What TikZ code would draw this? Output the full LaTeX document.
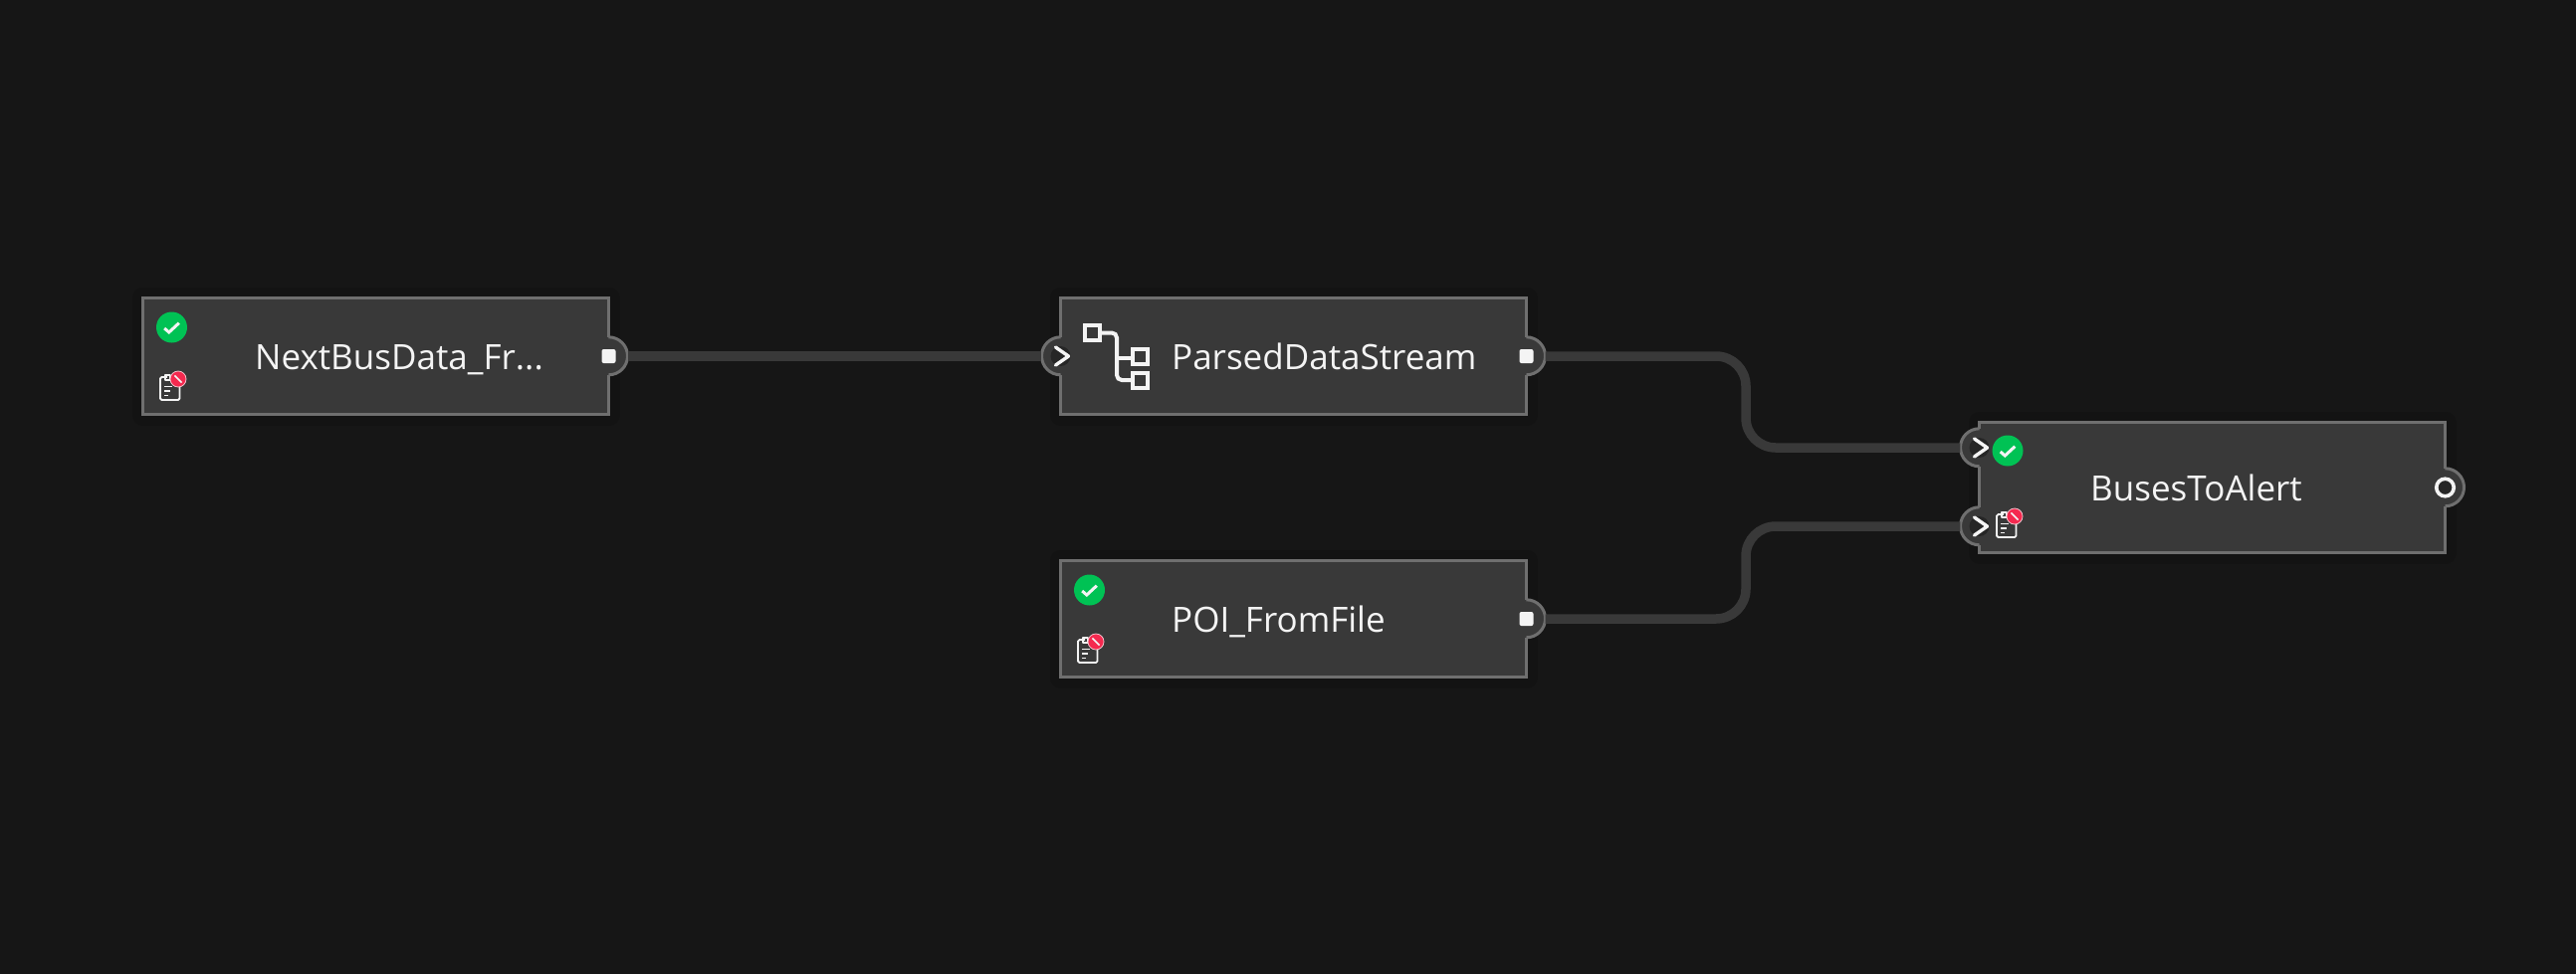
\documentclass[tikz,border=0pt]{standalone}
\usepackage{fontspec}
\setmainfont{Open Sans}
\definecolor{canvas}{HTML}{161616}
\definecolor{halo}{HTML}{131313}
\definecolor{bodyfill}{HTML}{393939}
\definecolor{bodyline}{HTML}{6F6F6F}
\definecolor{holefill}{HTML}{262626}
\definecolor{ink}{HTML}{F4F4F4}
\definecolor{okgreen}{HTML}{00C254}
\definecolor{badred}{HTML}{F5294F}
\tikzset{
  opbox/.style={rectangle,draw=bodyline,fill=bodyfill,line width=3pt,inner sep=0pt,minimum width=468pt,minimum height=117pt,
    preaction={draw=halo,line width=22pt,line join=round}},
  portbase/.style={circle,fill=bodyfill,inner sep=0pt,minimum size=38pt},
  portarc/.style={draw=bodyline,line width=3pt},
  wire/.style={draw=bodyfill,line width=9.5pt,rounded corners=30pt},
  label/.style={anchor=base west,inner sep=0pt,text=ink,font=\fontsize{35}{40}\selectfont},
  glyph/.style={draw=ink,line width=3.4pt,line cap=round,line join=round},
  tree/.style={draw=ink,line width=4pt,line cap=butt,line join=miter},
  thin glyph/.style={draw=ink,line width=1.8pt,line join=round},
}
% out port: name, x, y
\newcommand{\outport}[3]{%
  \node[portbase] (#1) at (#2,#3) {};
  \draw[portarc] (#1.north) arc[start angle=90,end angle=-90,radius=19pt];
  \node[rectangle,fill=ink,rounded corners=2pt,inner sep=0pt,minimum size=14pt] (#1sq) at (#1.center) {};
}
% in port: name, x, y
\newcommand{\inport}[3]{%
  \node[portbase] (#1) at (#2,#3) {};
  \draw[portarc] (#1.north) arc[start angle=90,end angle=270,radius=19pt];
  \node[circle,fill=holefill,inner sep=0pt,minimum size=20pt] (#1hole) at (#1.center) {};
  \begin{scope}[shift={(#1.center)}]
    \draw[glyph] (-5,-9) -- (8,0) -- (-5,9);
  \end{scope}
}
% status tick: name, x, y
\newcommand{\tick}[3]{%
  \node[circle,fill=okgreen,inner sep=0pt,minimum size=31pt] (#1) at (#2,#3) {};
  \begin{scope}[shift={(#1.center)}]
    \draw[draw=ink,line width=3pt,line join=miter] (-7.3,1) -- (-2.7,5) -- (7.3,-4.3);
  \end{scope}
}
% clipboard with red badge: name, x, y of the badge
\newcommand{\clipboard}[3]{%
  \begin{scope}[shift={(#2,#3)}]
    \draw[thin glyph,rounded corners=1.5pt] (-11,-2) -- (-18,-2) -- (-18,21) -- (1.5,21) -- (1.5,2);
    \draw[thin glyph] (-13,-4) rectangle (-8,1);
    \draw[thin glyph] (-14,7.5) -- (-6,7.5) (-14,12) -- (-8,12) (-14,16.5) -- (-10,16.5);
    \node[circle,fill=badred,draw=ink!75!badred,line width=0.8pt,inner sep=0pt,minimum size=16pt] (#1) at (0,0) {};
    \draw[draw=ink,line width=1.6pt] (-3.6,-3.6) -- (3.6,3.6);
  \end{scope}
}
\begin{document}
\begin{tikzpicture}[x=1pt,y=-1pt]
\useasboundingbox (0,0) rectangle (2588,978);
\fill[canvas] (-6,-6) rectangle (2594,984);

% bodies
\node[opbox] (next) at (377.5,358) {};
\node[opbox] (parsed) at (1299.5,358) {};
\node[opbox] (poi) at (1299.5,622) {};
\node[opbox,minimum height=131pt] (buses) at (2222.5,490) {};

% ports
\outport{nextout}{611.5}{358}
\inport{parsedin}{1065.5}{358}
\outport{parsedout}{1533.5}{358}
\outport{poiout}{1533.5}{622}
\inport{busesinA}{1988.5}{450}
\inport{busesinB}{1988.5}{529}
\node[portbase] (busesout) at (2456.5,490) {};
\draw[portarc] (busesout.north) arc[start angle=90,end angle=-90,radius=19pt];
\node[circle,draw=ink,fill=holefill,line width=3.6pt,inner sep=0pt,minimum size=17.5pt] (busesring) at (busesout.center) {};

% connectors
\coordinate (bendA) at (1754,404);
\coordinate (bendB) at (1754,575);
\draw[wire] (nextout.east) -- (parsedin.west);
\draw[wire] (parsedout.east) -- (parsedout.east -| bendA) -- (bendA |- busesinA.west) -- (busesinA.west);
\draw[wire] (poiout.east) -- (poiout.east -| bendB) -- (bendB |- busesinB.west) -- (busesinB.west);

% labels
\node[label] (nextlabel) at (256,371.5) {NextBusData\_Fr...};
\node[label] (parsedlabel) at (1177,371.5) {ParsedDataStream};
\node[label] (poilabel) at (1177,635.5) {POI\_FromFile};
\node[label] (buseslabel) at (2100,503.5) {BusesToAlert};

% status icons
\tick{nexttick}{172.5}{329}
\clipboard{nextclip}{179}{381}
\tick{poitick}{1094.5}{593}
\clipboard{poiclip}{1101}{645}
\tick{busestick}{2017}{453}
\clipboard{busesclip}{2024}{519}

% tree icon of ParsedDataStream
\draw[tree] (1090,327) rectangle (1105,342);
\draw[tree] (1138,351) rectangle (1153,366);
\draw[tree] (1138,375) rectangle (1153,390);
\draw[tree,rounded corners=5pt] (1107,334.5) -- (1122,334.5) -- (1122,382) -- (1136,382);
\draw[tree] (1122,360) -- (1136,360);
\end{tikzpicture}
\end{document}
